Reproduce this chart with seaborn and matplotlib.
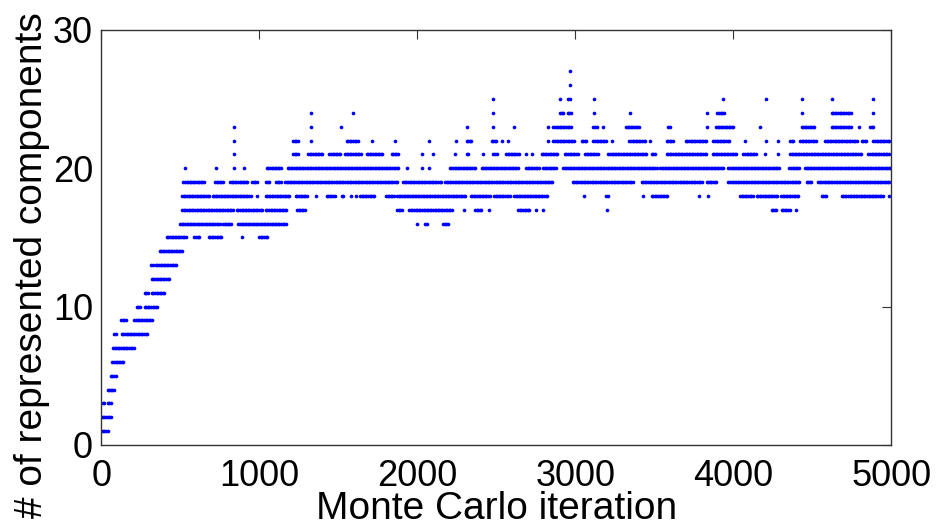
import seaborn as sns
import matplotlib.pyplot as plt
import numpy as np
import pandas as pd

# runs of iterations (start, end) at which the sampler sat at each number of components
lvl_1 = [(0, 40)]
lvl_2 = [(0, 60)]
lvl_3 = [(10, 20), (40, 60)]
lvl_4 = [(40, 80)]
lvl_5 = [(60, 90)]
lvl_6 = [(70, 140)]
lvl_7 = [(75, 210)]
lvl_8 = [(80, 95), (130, 290)]
lvl_9 = [(125, 155), (210, 325)]
lvl_10 = [(225, 250), (275, 355)]
lvl_11 = [(275, 300), (320, 405)]
lvl_12 = [(320, 435)]
lvl_13 = [(315, 330), (345, 480)]
lvl_14 = [(370, 515)]
lvl_15 = [(415, 535), (590, 625), (680, 760), (893, 893), (1000, 1057)]
lvl_16 = [(500, 750), (770, 820), (868, 1175), (1997, 1997), (2049, 2064), (2165, 2203)]
lvl_17 = [(513, 835), (858, 1025), (1042, 1177), (1240, 1295), (1874, 1912), (1950, 2229),
          (2296, 2296), (2366, 2414), (2454, 2454), (2640, 2718), (2752, 2752), (2798, 2798),
          (3203, 3203), (4244, 4280), (4307, 4360), (4398, 4398)]
lvl_18 = [(513, 688), (705, 950), (983, 983), (1040, 1190), (1232, 1310), (1359, 1359),
          (1427, 1480), (1522, 1532), (1579, 1579), (1612, 1612), (1638, 1733), (1802, 1860),
          (1874, 2313), (2338, 2461), (2486, 2587), (2613, 2824), (3056, 3056), (3195, 3210),
          (3431, 3431), (3484, 3590), (3786, 3786), (3843, 3843), (4044, 4124), (4149, 4280),
          (4303, 4413), (4560, 4592), (4687, 4951), (4989, 4989)]
lvl_19 = [(520, 657), (720, 770), (815, 930), (955, 990), (1043, 1070), (1106, 1142),
          (1163, 1880), (1912, 2155), (2176, 2862), (2984, 3368), (3421, 3807), (3832, 3896),
          (3970, 4423), (4465, 4497), (4539, 4995)]
lvl_20 = [(530, 530), (727, 727), (840, 840), (905, 905), (1048, 1142), (1180, 1880),
          (1937, 1937), (2028, 2028), (2075, 2075), (2207, 2372), (2408, 2646), (2689, 2777),
          (2798, 2883), (2925, 3516), (3537, 3942), (3970, 4297), (4356, 4423), (4455, 4995)]
lvl_21 = [(840, 840), (1215, 1247), (1310, 1402), (1444, 1522), (1543, 1648), (1680, 1786),
          (1838, 1880), (2028, 2028), (2098, 2098), (2239, 2239), (2313, 2330), (2418, 2418),
          (2482, 2507), (2562, 2646), (2689, 2689), (2724, 2724), (2788, 2893), (2935, 3020),
          (3062, 3146), (3210, 3452), (3484, 3505), (3579, 3832), (3870, 4022), (4065, 4145),
          (4202, 4202), (4282, 4282), (4360, 4814), (4856, 4995)]
lvl_22 = [(840, 840), (1215, 1247), (1328, 1328), (1553, 1627), (1716, 1716), (1860, 1860),
          (2075, 2075), (2245, 2245), (2313, 2345), (2471, 2503), (2539, 2541), (2577, 2577),
          (2830, 2830), (2862, 2992), (3041, 3077), (3115, 3195), (3233, 3233), (3343, 3448),
          (3474, 3474), (3579, 3625), (3701, 3832), (3875, 3980), (4075, 4075), (4208, 4208),
          (4286, 4286), (4360, 4387), (4423, 4525), (4582, 4782), (4814, 4845), (4888, 4995)]
lvl_23 = [(840, 840), (1328, 1328), (1515, 1515), (2317, 2317), (2482, 2482), (2613, 2613),
          (2830, 2830), (2862, 2978), (3115, 3140), (3174, 3174), (3322, 3406), (3590, 3604),
          (3832, 3832), (3892, 4008), (4170, 4170), (4434, 4518), (4624, 4750), (4799, 4799),
          (4866, 4892)]
lvl_24 = [(1328, 1328), (1596, 1596), (2482, 2482), (2904, 2929), (2952, 2973), (3121, 3121),
          (3347, 3347), (3832, 3832), (3900, 3944), (4438, 4438), (4624, 4750), (4888, 4888)]
lvl_25 = [(2482, 2482), (2904, 2904), (2957, 2971), (3119, 3119), (3938, 3938), (4208, 4208),
          (4438, 4438), (4624, 4624), (4888, 4888)]
lvl_26 = [(2967, 2967)]
lvl_27 = [(2967, 2967)]

runs = {1: lvl_1, 2: lvl_2, 3: lvl_3, 4: lvl_4, 5: lvl_5, 6: lvl_6, 7: lvl_7, 8: lvl_8,
        9: lvl_9, 10: lvl_10, 11: lvl_11, 12: lvl_12, 13: lvl_13, 14: lvl_14, 15: lvl_15,
        16: lvl_16, 17: lvl_17, 18: lvl_18, 19: lvl_19, 20: lvl_20, 21: lvl_21, 22: lvl_22,
        23: lvl_23, 24: lvl_24, 25: lvl_25, 26: lvl_26, 27: lvl_27}

x_ticks = [0, 1000, 2000, 3000, 4000, 5000]
y_ticks = [0, 10, 20, 30]

# one dot per recorded iteration inside each run
rows = []
for level, segs in runs.items():
    for start, end in segs:
        for it in np.arange(start, end + 1, 10):
            rows.append((it, level))
df = pd.DataFrame(rows, columns=["iteration", "components"])

sns.set_style("white")
plt.rcParams['font.family'] = ['Liberation Sans', 'DejaVu Sans']
plt.rcParams['text.color'] = 'black'
plt.rcParams['axes.labelcolor'] = 'black'

fig, ax = plt.subplots(figsize=(9.38, 5.26), dpi=100)
fig.subplots_adjust(left=0.108, right=0.950, bottom=0.154, top=0.943)

sns.scatterplot(data=df, x="iteration", y="components", color=(0, 0, 1), s=7,
                linewidth=0, ax=ax)

ax.set_xlim(0, 5000)
ax.set_ylim(0, 30)
ax.set_xticks(x_ticks)
ax.set_yticks(y_ticks)
ax.tick_params(direction='in', length=6.5, width=0.8, top=True, right=True,
               labelsize=26, color='#333333', labelcolor='black')
ax.tick_params(axis='x', pad=10)
ax.tick_params(axis='y', pad=6)
for sp in ax.spines.values():
    sp.set_color('#333333')
    sp.set_linewidth(1.0)

ax.set_xlabel("Monte Carlo iteration", fontsize=28, labelpad=-2)
ax.set_ylabel("# of represented components", fontsize=28, labelpad=2)
ax.yaxis.label.set_y(0.4325)

fig.savefig("out.png", dpi=100)
